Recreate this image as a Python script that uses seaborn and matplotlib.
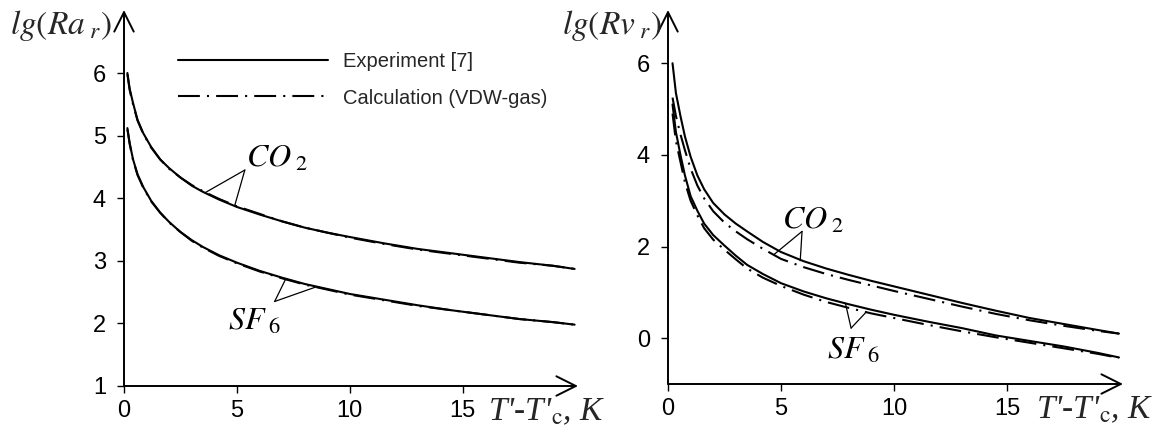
import matplotlib
matplotlib.use("Agg")
import matplotlib.pyplot as plt
import seaborn as sns
import pandas as pd

# ---------------- data ----------------
left_x = [0.15, 0.25, 0.4, 0.6, 0.85, 1.2, 1.6, 2.0, 2.5, 3.0, 3.5, 4.2, 5.0,
          6.0, 7.0, 8.0, 9.0, 10.0, 11.5, 13.0, 14.5, 16.0, 17.5, 19.0, 19.95]
left_co2_exp = [6.00, 5.75, 5.52, 5.25, 5.04, 4.82, 4.62, 4.48, 4.33, 4.20, 4.10, 3.98, 3.86,
                3.74, 3.63, 3.53, 3.45, 3.38, 3.28, 3.19, 3.12, 3.05, 2.98, 2.92, 2.87]
left_co2_calc = [5.98, 5.73, 5.50, 5.24, 5.03, 4.81, 4.62, 4.47, 4.33, 4.21, 4.11, 3.99, 3.87,
                 3.75, 3.63, 3.53, 3.45, 3.37, 3.27, 3.18, 3.11, 3.04, 2.97, 2.92, 2.87]
left_sf6_exp = [5.12, 4.88, 4.62, 4.38, 4.18, 3.96, 3.77, 3.62, 3.46, 3.33, 3.22, 3.09, 2.97,
                2.84, 2.73, 2.63, 2.55, 2.47, 2.38, 2.29, 2.21, 2.14, 2.07, 2.02, 1.98]
left_sf6_calc = [5.10, 4.87, 4.61, 4.37, 4.17, 3.95, 3.77, 3.61, 3.46, 3.32, 3.21, 3.08, 2.96,
                 2.83, 2.72, 2.62, 2.54, 2.46, 2.37, 2.28, 2.21, 2.14, 2.07, 2.02, 1.98]

right_x = [0.2, 0.35, 0.55, 0.75, 1.0, 1.3, 1.6, 2.0, 2.5, 3.0, 3.5, 4.2, 5.0,
           6.0, 7.0, 8.0, 9.0, 10.0, 11.5, 13.0, 14.5, 16.0, 17.5, 19.0, 19.95]
right_co2_exp = [6.00, 5.35, 4.85, 4.40, 3.96, 3.55, 3.25, 2.95, 2.70, 2.50, 2.33, 2.10, 1.88,
                 1.68, 1.52, 1.38, 1.25, 1.13, 0.95, 0.77, 0.60, 0.44, 0.31, 0.18, 0.10]
right_co2_calc = [5.25, 4.85, 4.45, 4.10, 3.70, 3.33, 3.05, 2.77, 2.52, 2.33, 2.16, 1.95, 1.73,
                  1.55, 1.40, 1.27, 1.15, 1.03, 0.86, 0.69, 0.53, 0.39, 0.27, 0.16, 0.10]
right_sf6_exp = [5.10, 4.50, 4.00, 3.55, 3.10, 2.78, 2.50, 2.25, 2.02, 1.80, 1.60, 1.40, 1.20,
                 1.02, 0.87, 0.74, 0.62, 0.51, 0.36, 0.22, 0.06, -0.06, -0.18, -0.32, -0.42]
right_sf6_calc = [4.90, 4.30, 3.85, 3.40, 3.00, 2.68, 2.40, 2.15, 1.93, 1.72, 1.52, 1.32, 1.14,
                  0.95, 0.79, 0.66, 0.54, 0.44, 0.29, 0.15, 0.02, -0.10, -0.22, -0.34, -0.43]

x_ticks = [0, 5, 10, 15]
left_yticks = [1, 2, 3, 4, 5, 6]
right_yticks = [0, 2, 4, 6]

legend_labels = ["Experiment [7]", "Calculation (VDW-gas)"]

# annotation anchors (data coords): vertex, two ends, text position
left_co2_ann = dict(vertex=(5.35, 4.45), ends=[(3.6, 4.09), (4.9, 3.88)], text=(5.4, 4.5), label=r"$CO_{\ 2}$")
left_sf6_ann = dict(vertex=(6.67, 2.35), ends=[(7.16, 2.71), (8.56, 2.59)], text=(4.6, 1.9), label=r"$SF_{\ 6}$")
right_co2_ann = dict(vertex=(5.93, 2.33), ends=[(4.7, 1.83), (5.85, 1.69)], text=(5.03, 2.38), label=r"$CO_{\ 2}$")
right_sf6_ann = dict(vertex=(8.1, 0.22), ends=[(7.85, 0.76), (8.77, 0.57)], text=(7.03, -0.46), label=r"$SF_{\ 6}$")

# ---------------- style ----------------
sns.set_theme(style="ticks")
plt.rcParams["font.family"] = ["Liberation Sans", "DejaVu Sans"]
plt.rcParams["mathtext.fontset"] = "stix"

W, H = 1160, 437
fig = plt.figure(figsize=(W / 100, H / 100), dpi=100)
axL = fig.add_axes([124 / W, 1 - 386 / H, 454 / W, 376 / H])
axR = fig.add_axes([668 / W, 1 - 384 / H, 455 / W, 374 / H])

DASHDOT = (0, (10.5, 3.4, 1.0, 3.4))
LW = 1.5
SERIF_SIZE = 24


def draw_series(ax, x, y, calc, label=None):
    df = pd.DataFrame({"T": x, "v": y})
    sns.lineplot(data=df, x="T", y="v", ax=ax, color="black", lw=LW,
                 linestyle=DASHDOT if calc else "-", label=label,
                 sort=True, estimator=None)


draw_series(axL, left_x, left_co2_exp, False, legend_labels[0])
draw_series(axL, left_x, left_co2_calc, True, legend_labels[1])
draw_series(axL, left_x, left_sf6_exp, False)
draw_series(axL, left_x, left_sf6_calc, True)

draw_series(axR, right_x, right_co2_exp, False)
draw_series(axR, right_x, right_co2_calc, True)
draw_series(axR, right_x, right_sf6_exp, False)
draw_series(axR, right_x, right_sf6_calc, True)

axL.set_xlim(0, 20.1)
axL.set_ylim(1, 1 + 376 / 62.6)
axR.set_xlim(0, 20.13)
axR.set_ylim(-1, 328 / 45.8)


def style_axis(ax, yticks, xlabel_dx, ylabel_text, ylabel_dx):
    ax.set_xticks(x_ticks)
    ax.set_yticks(yticks)
    ax.set_xlabel("")
    ax.set_ylabel("")
    for s in ax.spines.values():
        s.set_visible(False)
    ax.tick_params(axis="both", direction="out", length=5, width=1.0,
                   colors="black", labelsize=17, pad=8)
    ax.tick_params(axis="x", pad=5)
    ax.set_facecolor("none")
    arrow = dict(arrowstyle="->,head_length=0.7,head_width=0.35", lw=1.4,
                 color="black", shrinkA=0, shrinkB=0, mutation_scale=20)
    ax.annotate("", xy=(1, 0), xytext=(0, 0), xycoords="axes fraction",
                textcoords="axes fraction", arrowprops=arrow, annotation_clip=False)
    ax.annotate("", xy=(0, 1), xytext=(0, 0), xycoords="axes fraction",
                textcoords="axes fraction", arrowprops=arrow, annotation_clip=False)
    ax.annotate(r"T'-T'$_{\mathrm{c}}$, K", xy=(1, 0), xycoords="axes fraction",
                xytext=(xlabel_dx, -8), textcoords="offset points",
                ha="right", va="top", fontsize=SERIF_SIZE, family="Liberation Serif",
                style="italic", annotation_clip=False)
    ax.annotate(ylabel_text, xy=(0, 1), xycoords="axes fraction",
                xytext=(ylabel_dx, -17), textcoords="offset points",
                ha="right", va="baseline", fontsize=SERIF_SIZE, annotation_clip=False)


style_axis(axL, left_yticks, 20, r"$lg(Ra_{\ r})$", -9)
style_axis(axR, right_yticks, 22, r"$lg(Rv_{\ r})$", -4)


def leader(ax, ann):
    for end in ann["ends"]:
        ax.annotate("", xy=end, xytext=ann["vertex"], xycoords="data",
                    arrowprops=dict(arrowstyle="-", lw=0.9, color="black",
                                    shrinkA=0, shrinkB=0))
    ax.text(ann["text"][0], ann["text"][1], ann["label"], fontsize=23,
            ha="left", va="baseline", color="black")


for ax, anns in ((axL, (left_co2_ann, left_sf6_ann)), (axR, (right_co2_ann, right_sf6_ann))):
    for a in anns:
        leader(ax, a)

leg = axL.legend(loc="upper left", bbox_to_anchor=((178 - 124) / 454, (386 - 52) / 376),
                 frameon=False, fontsize=14.5, handlelength=7.45, handletextpad=0.75,
                 labelspacing=0.87, borderpad=0, borderaxespad=0)
for h in leg.get_lines():
    h.set_linewidth(LW)
if axR.get_legend() is not None:
    axR.get_legend().remove()

fig.savefig("out.png", dpi=100, facecolor="white")
